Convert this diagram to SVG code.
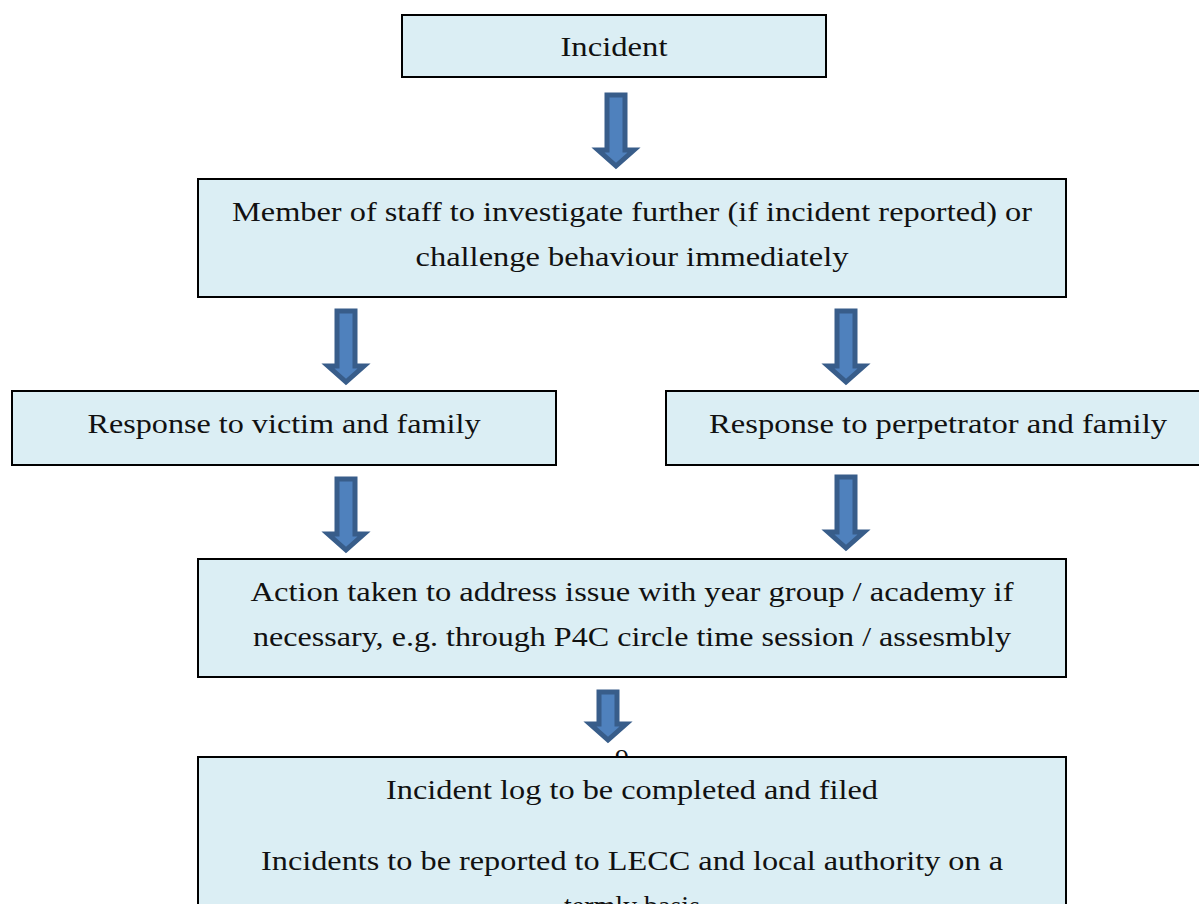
<svg xmlns="http://www.w3.org/2000/svg" width="1199" height="904" viewBox="0 0 1199 904">
<style>
.box{fill:#DBEEF4;stroke:#000;stroke-width:2}
.t{font-family:"Liberation Serif","DejaVu Serif",serif;font-size:28px;fill:#111;text-anchor:middle}
.arr{fill:#4F81BD;stroke:#385D8A;stroke-width:5;stroke-linejoin:miter}
</style>
<rect width="1199" height="904" fill="#fff"/>
<g id="connectors">
<path class="arr" d="M607,95 H625 V150 H634 L616,166 L598,150 H607 Z"/>
<path class="arr" d="M337,311 H355 V366 H364 L346,382 L328,366 H337 Z"/>
<path class="arr" d="M837,311 H855 V366 H864 L846,382 L828,366 H837 Z"/>
<path class="arr" d="M337,479 H355 V534 H364 L346,550 L328,534 H337 Z"/>
<path class="arr" d="M837,477 H855 V532 H864 L846,548 L828,532 H837 Z"/>
<path class="arr" d="M599,692 H617 V724 H626 L608,740 L590,724 H599 Z"/>
</g>
<text class="t" x="622" y="768">9</text>
<g id="incident"><rect class="box" x="402" y="15" width="424" height="62"/><text class="t" x="614" y="56" textLength="107" lengthAdjust="spacingAndGlyphs">Incident</text></g>
<g id="investigate"><rect class="box" x="198" y="179" width="868" height="118"/>
<text class="t" x="632" y="221" textLength="800" lengthAdjust="spacingAndGlyphs">Member of staff to investigate further (if incident reported) or</text>
<text class="t" x="632" y="266" textLength="433" lengthAdjust="spacingAndGlyphs">challenge behaviour immediately</text></g>
<g id="victim"><rect class="box" x="12" y="391" width="544" height="74"/><text class="t" x="284" y="433" textLength="393" lengthAdjust="spacingAndGlyphs">Response to victim and family</text></g>
<g id="perpetrator"><rect class="box" x="666" y="391" width="540" height="74"/><text class="t" x="938" y="433" textLength="458" lengthAdjust="spacingAndGlyphs">Response to perpetrator and family</text></g>
<g id="action"><rect class="box" x="198" y="559" width="868" height="118"/>
<text class="t" x="632" y="601" textLength="763" lengthAdjust="spacingAndGlyphs">Action taken to address issue with year group / academy if</text>
<text class="t" x="632" y="646" textLength="758" lengthAdjust="spacingAndGlyphs">necessary, e.g. through P4C circle time session / assesmbly</text></g>
<g id="log"><rect class="box" x="198" y="757" width="868" height="160"/>
<text class="t" x="632" y="799" textLength="492" lengthAdjust="spacingAndGlyphs">Incident log to be completed and filed</text>
<text class="t" x="632" y="870" textLength="742" lengthAdjust="spacingAndGlyphs">Incidents to be reported to LECC and local authority on a</text>
<text class="t" x="632" y="915">termly basis</text></g>
</svg>
